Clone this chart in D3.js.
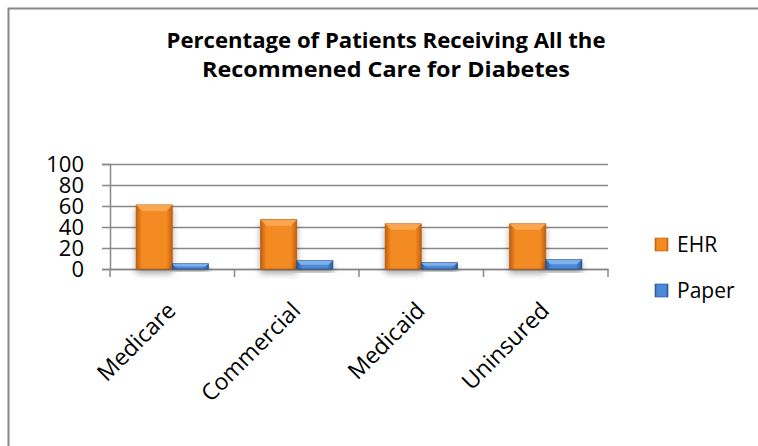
<!DOCTYPE html>
<html>
<head>
<meta charset="utf-8">
<script src="https://cdn.jsdelivr.net/npm/d3@7"></script>
<style>
  body { margin: 0; background: #fff; }
  svg { display: block; }
  text { font-family: "Open Sans", sans-serif; fill: #000; }
</style>
</head>
<body>
<svg width="758" height="446"></svg>
<script>
var categories = ["Medicare", "Commercial", "Medicaid", "Uninsured"];
var seriesNames = ["EHR", "Paper"];
var ehrValues = [61, 47, 43, 43];
var paperValues = [5, 8, 6, 9];
var yTicks = [0, 20, 40, 60, 80, 100];
var titleLines = ["Percentage of Patients Receiving All the", "Recommened Care for Diabetes"];

var w = 758, h = 446;
var svg = d3.select("svg");
var defs = svg.append("defs");

// bar gradients, dark edges / light middle
function sideGrad(id, edge, mid) {
  var g = defs.append("linearGradient").attr("id", id)
    .attr("x1", 0).attr("x2", 1).attr("y1", 0).attr("y2", 0);
  g.append("stop").attr("offset", "0%").attr("stop-color", edge);
  g.append("stop").attr("offset", "16%").attr("stop-color", mid);
  g.append("stop").attr("offset", "84%").attr("stop-color", mid);
  g.append("stop").attr("offset", "100%").attr("stop-color", edge);
}
sideGrad("gEHR", "#c45f0c", "#f38a22");
sideGrad("gPaper", "#285a9a", "#4b8ad8");

var shadow = defs.append("filter").attr("id", "shadow")
  .attr("x", "-20%").attr("y", "-20%").attr("width", "140%").attr("height", "160%");
shadow.append("feGaussianBlur").attr("in", "SourceAlpha").attr("stdDeviation", 3);
shadow.append("feOffset").attr("dx", 0).attr("dy", 4).attr("result", "blur");
shadow.append("feComponentTransfer").append("feFuncA").attr("type", "linear").attr("slope", 0.35);
var merge = shadow.append("feMerge");
merge.append("feMergeNode");
merge.append("feMergeNode").attr("in", "SourceGraphic");

// partial frame (only top and left edges are visible)
svg.append("path")
  .attr("d", "M8.5," + h + "V8.5H" + w)
  .attr("fill", "none").attr("stroke", "#888").attr("stroke-width", 2);

// title
var titleW = [439, 368];
svg.append("text")
  .attr("text-anchor", "middle")
  .style("font-weight", "bold").style("font-size", "21px")
  .selectAll("tspan").data(titleLines).enter().append("tspan")
  .attr("x", 386)
  .attr("y", function(d, i){ return 48 + i * 29; })
  .attr("textLength", function(d, i){ return titleW[i]; })
  .attr("lengthAdjust", "spacingAndGlyphs")
  .text(function(d){ return d; });

var x0 = d3.scaleBand().domain(categories).range([110, 608])
  .paddingInner(0.42).paddingOuter(0.21);
var x1 = d3.scaleBand().domain(seriesNames).range([0, x0.bandwidth()]);
var y = d3.scaleLinear().domain([0, 100]).range([269, 164]);

// gridlines + y axis
var yAxis = svg.append("g").attr("transform", "translate(110,0)")
  .call(d3.axisLeft(y).tickValues(yTicks).tickSize(8).tickPadding(18));
yAxis.select(".domain").attr("stroke", "#888").attr("stroke-width", 1.5);
yAxis.selectAll(".tick line").attr("stroke", "#888").attr("stroke-width", 1.5);
yAxis.selectAll(".tick text").style("font-size", "22px").attr("dy", "0.36em")
  .style("font-family", "'Open Sans', sans-serif").attr("fill", "#000");
yAxis.selectAll(".tick").append("line")
  .attr("x1", 0).attr("x2", 608 - 110)
  .attr("stroke", "#888").attr("stroke-width", 1.5);

// x axis
var xAxis = svg.append("g").attr("transform", "translate(0,269)")
  .call(d3.axisBottom(x0).tickSize(0).tickFormat(""));
xAxis.select(".domain").attr("stroke", "#888").attr("stroke-width", 1.5);
var bounds = categories.map(function(c){ return x0(c) - x0.step() * 0.21; });
bounds.push(608);
xAxis.selectAll(".sep").data(bounds).enter().append("line")
  .attr("x1", function(d){ return d; }).attr("x2", function(d){ return d; })
  .attr("y1", 0).attr("y2", 8)
  .attr("stroke", "#888").attr("stroke-width", 1.5);

svg.append("g").selectAll("text").data(categories).enter().append("text")
  .attr("text-anchor", "end")
  .style("font-size", "23px")
  .attr("transform", function(d){
    return "translate(" + (x0(d) + x0.bandwidth() / 2 + 5) + ",312) rotate(-45)";
  })
  .text(function(d){ return d; });

// bars
var rows = categories.map(function(c, i){
  return { cat: c, vals: [{ s: "EHR", v: ehrValues[i] }, { s: "Paper", v: paperValues[i] }] };
});
var groups = svg.append("g").selectAll("g").data(rows).enter().append("g")
  .attr("transform", function(d){ return "translate(" + x0(d.cat) + ",0)"; });

var bars = groups.selectAll("g").data(function(d){ return d.vals; }).enter().append("g")
  .attr("filter", "url(#shadow)");
bars.append("rect")
  .attr("x", function(d){ return x1(d.s); })
  .attr("y", function(d){ return y(d.v); })
  .attr("width", x1.bandwidth())
  .attr("height", function(d){ return y(0) - y(d.v); })
  .attr("fill", function(d){ return d.s == "EHR" ? "url(#gEHR)" : "url(#gPaper)"; })
  .attr("stroke", function(d){ return d.s == "EHR" ? "#b85a0c" : "#244f88"; })
  .attr("stroke-width", 0.8);
// top bevel highlight
bars.append("path")
  .attr("d", function(d){
    var bx = x1(d.s), bw = x1.bandwidth(), by = y(d.v), bh = y(0) - y(d.v);
    var b = Math.min(6, bh / 2);
    return "M" + bx + "," + by + "H" + (bx + bw) + "L" + (bx + bw - b) + "," + (by + b) +
      "H" + (bx + b) + "Z";
  })
  .attr("fill", function(d){ return d.s == "EHR" ? "#fcaa55" : "#86b4ee"; })
  .attr("opacity", 0.9);

// legend
var legend = svg.append("g").selectAll("g").data(seriesNames).enter().append("g")
  .attr("transform", function(d, i){ return "translate(655," + (238 + i * 46) + ")"; });
legend.append("rect").attr("width", 13).attr("height", 13)
  .attr("fill", function(d){ return d == "EHR" ? "url(#gEHR)" : "url(#gPaper)"; })
  .attr("stroke", function(d){ return d == "EHR" ? "#b85a0c" : "#244f88"; })
  .attr("stroke-width", 0.6);
legend.append("text").attr("x", 22).attr("y", 14)
  .style("font-size", "21px")
  .text(function(d){ return d; });
</script>
</body>
</html>
